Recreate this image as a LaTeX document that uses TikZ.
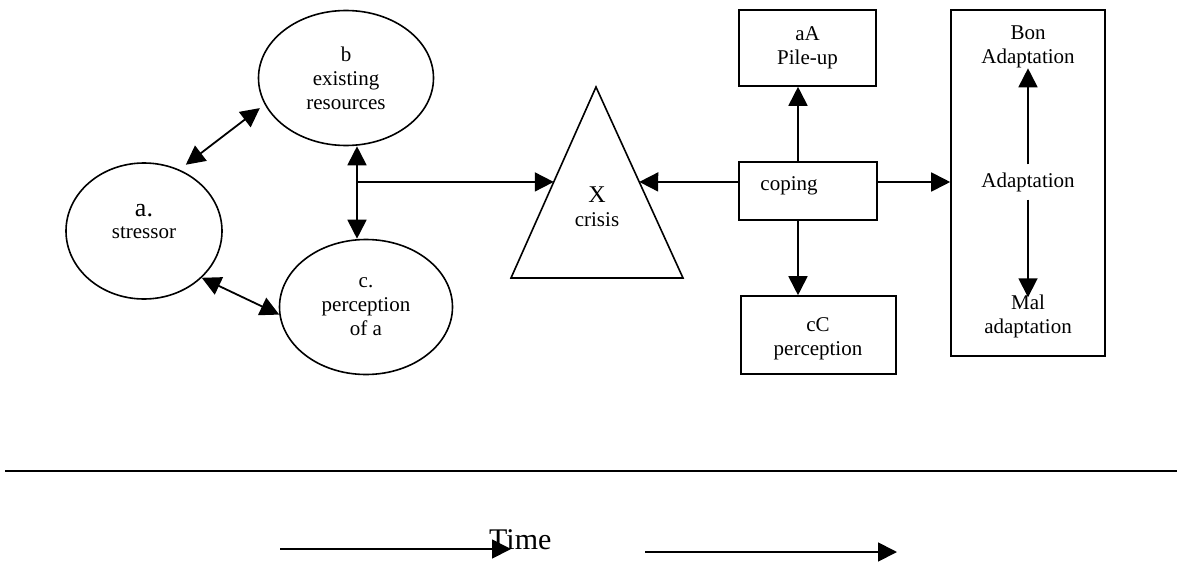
\documentclass[tikz,border=0pt]{standalone}
\usepackage{fontspec}
\setmainfont{Liberation Serif}
\usetikzlibrary{shapes.geometric,arrows.meta,calc}
\tikzset{
  every node/.style={font=\fontsize{21}{24}\selectfont, align=center, inner sep=0pt},
  ell/.style={draw, ellipse, line width=1.6pt, inner sep=0pt},
  boxn/.style={draw, rectangle, line width=1.6pt, inner sep=0pt},
  ln/.style={line width=1.8pt},
  arr/.style={line width=1.8pt, -{Triangle[length=19pt,width=19pt]}},
  dbl/.style={line width=1.8pt, {Triangle[length=19pt,width=19pt]}-{Triangle[length=19pt,width=19pt]}},
}
\begin{document}
\begin{tikzpicture}[x=1pt,y=-1pt]
\useasboundingbox (0,0) rectangle (1181,565);

% ellipses
\node[ell, minimum width=156pt, minimum height=136pt] (a) at (144,231) {};
\node at (144,221) {{\fontsize{26}{26}\selectfont a.}\\[-2pt]stressor};
\node[ell, minimum width=175pt, minimum height=135pt] (b) at (346,78) {b\\existing\\resources};
\node[ell, minimum width=173pt, minimum height=135pt] (c) at (366,307) {c.\\perception\\of a};

% triangle
\coordinate (Xtop) at (596,87);
\coordinate (Xbl) at (511,278);
\coordinate (Xbr) at (683,278);
\draw[line width=1.6pt, line join=miter] (Xtop) -- (Xbl) -- (Xbr) -- cycle;
\node (X) at (597,207) {{\fontsize{24}{24}\selectfont X}\\crisis};
\coordinate (XL) at ($(Xtop)!0.497!(Xbl)$);
\coordinate (XR) at ($(Xtop)!0.497!(Xbr)$);

% boxes
\node[boxn, minimum width=137pt, minimum height=76pt] (aA) at (807.5,48) {aA\\Pile-up};
\node[boxn, minimum width=138pt, minimum height=58pt] (coping) at (808,191) {};
\node at (789,186) {coping};
\node[boxn, minimum width=155pt, minimum height=78pt] (cC) at (818.5,335) {};
\node at (818,339) {\fontsize{21}{19}\selectfont cC\\perception};
\node[boxn, minimum width=154pt, minimum height=346pt] (big) at (1028,183) {};
\node (T1) at (1028,47) {Bon\\Adaptation};
\node (T2) at (1028,182) {Adaptation};
\node (T3) at (1028,316) {\fontsize{21}{25}\selectfont Mal\\adaptation};

% connectors left group
\draw[dbl, shorten <=8pt, shorten >=6pt] (a.60) -- (b.198);
\draw[dbl] (a.-39) -- (c.185);
\coordinate (bc) at (357,182);
\draw[dbl] (bc |- b.south) -- (bc |- c.north);
\draw[arr] (bc) -- (XL);

% coping connectors
\draw[arr] (bc -| coping.west) -- (XR);
\draw[arr] (798,0 |- coping.north) -- (798,0 |- aA.south);
\draw[arr] (798,0 |- coping.south) -- (798,0 |- cC.north);
\draw[arr] (bc -| coping.east) -- (bc -| big.west);

% inside big box
\draw[arr, shorten <=8pt] (T2.north) -- (T1.south);
\draw[arr, shorten <=8pt, shorten >=-3pt] (T2.south) -- (T3.north);

% time line
\draw[ln] (5,471) -- (1177,471);
\coordinate (t1s) at (280,549);
\coordinate (t1e) at (511,549);
\draw[arr] (t1s) -- (t1e);
\node[anchor=base west, font=\fontsize{30}{30}\selectfont] (time) at (489,549) {Time};
\coordinate (t2s) at (645,552);
\coordinate (t2e) at (897,552);
\draw[arr] (t2s) -- (t2e);
\end{tikzpicture}
\end{document}
